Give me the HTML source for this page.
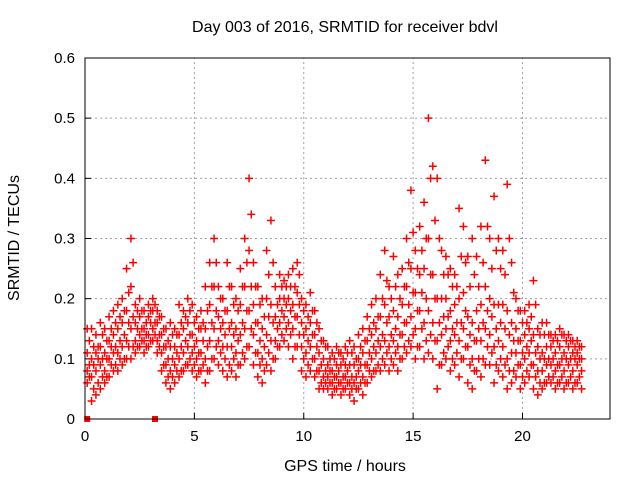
<!DOCTYPE html>
<html><head><meta charset="utf-8"><style>
body{margin:0;background:#fff}
svg{display:block;font-family:"Liberation Sans",sans-serif}
</style></head><body>
<svg id="chart" width="640" height="480" viewBox="0 0 640 480">
<text x="345" y="32" font-size="16" text-anchor="middle">Day 003 of 2016, SRMTID for receiver bdvl</text>
<text x="345" y="471" font-size="16" text-anchor="middle">GPS time / hours</text>
<text x="19" y="238" font-size="16" text-anchor="middle" transform="rotate(-90 19 238)">SRMTID / TECUs</text>
<g id="grid"></g><g id="marks"></g>
<rect x="85" y="58" width="525" height="361" fill="none" stroke="#000" stroke-width="1"/>
</svg>
<script>
const t0 = 0.1, dt = 0.2, tOff = 0.2;
const loVals = [.06,.03,.04,.05,.06,.07,.08,.08,.09,.10,.10,.11,.12,.11,.12,.13,.11,.08,.06,.05,.06,.07,.08,.09,.08,.07,.08,.06,.08,.10,.09,.08,.07,.08,.07,.09,.10,.12,.09,.07,.06,.09,.08,.10,.12,.13,.12,.10,.12,.08,.07,.08,.07,.05,.05,.05,.04,.05,.04,.05,.04,.03,.05,.04,.06,.07,.08,.08,.09,.08,.09,.08,.10,.11,.12,.10,.12,.10,.11,.10,.05,.09,.10,.08,.09,.07,.10,.06,.05,.08,.07,.09,.09,.06,.08,.07,.05,.06,.07,.05,.06,.07,.05,.04,.05,.06,.06,.05,.06,.05,.06,.05,.06,.05];
const q1Vals = [.08,.07,.08,.09,.08,.10,.11,.11,.12,.13,.15,.13,.14,.13,.14,.15,.13,.11,.09,.08,.09,.10,.11,.12,.11,.10,.11,.10,.13,.15,.13,.12,.12,.12,.11,.14,.15,.18,.14,.11,.10,.14,.13,.13,.16,.17,.16,.15,.17,.12,.11,.12,.10,.08,.07,.07,.06,.07,.06,.07,.06,.06,.08,.07,.09,.10,.11,.12,.13,.12,.13,.12,.14,.16,.17,.15,.18,.16,.18,.16,.13,.14,.15,.13,.14,.13,.15,.12,.10,.13,.13,.15,.14,.12,.13,.12,.10,.11,.11,.09,.10,.11,.09,.08,.08,.09,.09,.08,.09,.08,.09,.08,.09,.08];
const q3Vals = [.11,.10,.11,.12,.11,.13,.14,.15,.16,.18,.22,.16,.17,.15,.17,.18,.16,.14,.12,.12,.12,.14,.15,.16,.14,.13,.15,.15,.19,.22,.17,.16,.18,.16,.15,.19,.22,.28,.19,.16,.15,.20,.19,.17,.20,.20,.20,.19,.21,.16,.15,.16,.14,.11,.10,.09,.08,.09,.09,.09,.09,.09,.10,.11,.13,.14,.15,.17,.19,.17,.18,.17,.19,.22,.25,.21,.24,.25,.30,.24,.20,.20,.20,.18,.19,.20,.21,.17,.16,.18,.19,.22,.20,.19,.19,.19,.18,.16,.15,.13,.14,.15,.14,.12,.11,.12,.12,.11,.12,.11,.12,.11,.11,.10];
const hiVals = [.15,.15,.14,.16,.15,.17,.18,.19,.20,.25,.30,.19,.20,.18,.19,.20,.18,.17,.15,.16,.15,.19,.18,.20,.19,.17,.18,.22,.26,.30,.22,.20,.26,.22,.20,.25,.30,.40,.26,.22,.20,.28,.33,.22,.24,.23,.24,.25,.26,.20,.19,.21,.18,.15,.13,.12,.11,.12,.11,.12,.13,.12,.14,.15,.17,.19,.20,.24,.28,.22,.27,.24,.25,.30,.38,.28,.32,.36,.50,.42,.40,.28,.27,.25,.24,.35,.32,.27,.30,.27,.32,.43,.30,.37,.30,.28,.39,.26,.20,.18,.18,.19,.23,.15,.16,.16,.14,.14,.15,.14,.14,.13,.13,.12];
const midAVals = [.09,.09,.10,.10,.10,.12,.12,.13,.14,.16,.17,.15,.15,.14,.16,.16,.14,.12,.10,.10,.11,.12,.13,.14,.12,.11,.13,.12,.16,.18,.15,.14,.15,.14,.13,.16,.18,.22,.16,.13,.12,.17,.16,.15,.18,.19,.18,.17,.19,.14,.13,.14,.12,.09,.08,.08,.07,.08,.07,.08,.07,.07,.09,.09,.11,.12,.13,.14,.16,.14,.15,.14,.16,.19,.21,.18,.21,.20,.24,.20,.16,.17,.17,.15,.16,.16,.18,.14,.13,.15,.16,.18,.17,.15,.16,.15,.14,.13,.13,.11,.12,.13,.11,.10,.10,.10,.10,.09,.10,.10,.10,.10,.10];
const midBVals = [.07,.05,.06,.07,.07,.09,.09,.10,.10,.12,.12,.12,.13,.12,.13,.14,.12,.09,.07,.07,.08,.08,.09,.10,.09,.08,.09,.08,.10,.12,.11,.10,.09,.10,.09,.11,.12,.15,.11,.09,.08,.11,.10,.12,.14,.15,.14,.12,.14,.10,.09,.10,.08,.06,.06,.06,.05,.06,.05,.06,.05,.05,.06,.06,.08,.08,.09,.10,.11,.10,.11,.10,.12,.13,.14,.12,.15,.13,.14,.13,.09,.11,.12,.10,.11,.10,.12,.09,.08,.10,.10,.12,.11,.09,.10,.09,.08,.08,.09,.07,.08,.09,.07,.06,.06,.07,.07,.06,.07,.06,.07,.06,.07];
const midCVals = [.13,.12,.12,.14,.13,.15,.16,.17,.18,.21,.26,.18,.18,.16,.18,.19,.17,.15,.13,.14,.14,.16,.17,.18,.16,.15,.16,.18,.22,.26,.20,.18,.22,.19,.18,.22,.26,.34,.22,.19,.17,.24,.26,.19,.22,.22,.22,.22,.24,.18,.17,.18,.16,.13,.12,.10,.10,.11,.10,.11,.11,.10,.12,.13,.15,.16,.17,.20,.23,.20,.22,.20,.22,.26,.31,.25,.28,.30,.40,.33,.30,.24,.24,.22,.22,.27,.26,.22,.24,.22,.26,.32,.25,.28,.25,.24,.30,.21,.18,.16,.16,.17,.19,.14,.14,.14,.13,.13,.14,.13,.13,.12,.12];
const zeroTimes = [0.1, 3.2];
const xTicks = [0,5,10,15,20];
const yTicks = [0,0.1,0.2,0.3,0.4,0.5,0.6];
const yTickLabels = ["0","0.1","0.2","0.3","0.4","0.5","0.6"];

const NS="http://www.w3.org/2000/svg";
const X0=85,X1=610,Y0=419,Y1=58,XMAX=24,YMAX=0.6;
const xs=t=>X0+(X1-X0)*t/XMAX;
const ys=v=>Y0-(Y0-Y1)*v/YMAX;
const grid=document.getElementById('grid'), marks=document.getElementById('marks');
function mk(tag,attrs,parent){const e=document.createElementNS(NS,tag);for(const k in attrs)e.setAttribute(k,attrs[k]);parent.appendChild(e);return e;}
xTicks.forEach(t=>{
  const x=xs(t);
  if(t>0){const g=mk('line',{x1:x,y1:Y0,x2:x,y2:Y1,stroke:'#a0a0a0','stroke-dasharray':'2,3'},grid);
  
  }
  const tk=mk('line',{x1:x,y1:Y0,x2:x,y2:Y0-6,stroke:'#000'},grid);
  
  
  const tx=mk('text',{x:x,y:Y0+22,'font-size':15,'text-anchor':'middle'},grid);tx.textContent=t;
  
  
});
yTicks.forEach((v,i)=>{
  const y=ys(v);
  if(v>0&&v<YMAX){const g=mk('line',{x1:X0,y1:y,x2:X1,y2:y,stroke:'#a0a0a0','stroke-dasharray':'2,3'},grid);
  
  }
  const tk=mk('line',{x1:X0,y1:y,x2:X0+6,y2:y,stroke:'#000'},grid);
  
  
  const tx=mk('text',{x:X0-10,y:y+5,'font-size':15,'text-anchor':'end'},grid);tx.textContent=yTickLabels[i];
  
  
});
function cross(t,v){
  const x=xs(t),y=ys(v);
  const p=mk('path',{d:`M${x-4} ${y}h8M${x} ${y-4}v8`,stroke:'#ff0000','stroke-width':1.5,fill:'none'},marks);
  
  
}
[loVals,q1Vals,q3Vals,hiVals].forEach(arr=>arr.forEach((v,i)=>cross(t0+dt*i,v)));
[midAVals,midBVals,midCVals].forEach(arr=>arr.forEach((v,i)=>{const t=tOff+dt*i; if(t<=22.8) cross(t,v);}));
zeroTimes.forEach(t=>{
  const r=mk('rect',{x:xs(t)-3,y:Y0-3,width:6,height:6,fill:'#ff0000'},marks);
  
  
});
</script>
</body></html>
